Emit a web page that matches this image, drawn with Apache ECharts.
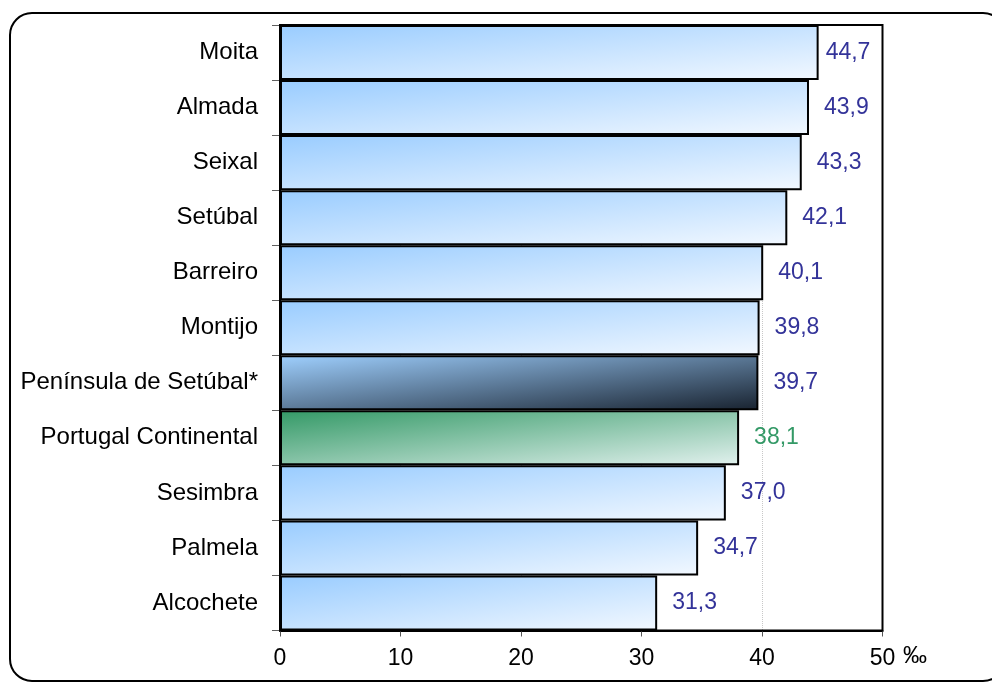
<!DOCTYPE html>
<html>
<head>
<meta charset="utf-8">
<script src="https://cdn.jsdelivr.net/npm/echarts@6/dist/echarts.min.js"></script>
<style>
html,body{margin:0;padding:0;background:#fff;}
#c{width:992px;height:684px;}
</style>
</head>
<body>
<div id="c"></div>
<script>
var categories = ['Moita','Almada','Seixal','Setúbal','Barreiro','Montijo','Península de Setúbal*','Portugal Continental','Sesimbra','Palmela','Alcochete'];
var values = [44.7, 43.9, 43.3, 42.1, 40.1, 39.8, 39.7, 38.1, 37.0, 34.7, 31.3];
var xTicks = [0, 10, 20, 30, 40, 50];
var unitLabel = '‰';

var FONT = 'Liberation Sans, Arial, sans-serif';
var GRID = {left: 280, right: 109.5, top: 25, bottom: 53.5};
var plotW = 992 - GRID.left - GRID.right;
var bandH = (684 - GRID.top - GRID.bottom) / categories.length;

function grad(v, c0, c1) {
  var w = v / 50 * plotW, h = bandH;
  var d = h * h + w * w;
  return {type: 'linear', x: 0, y: 0, x2: 2 * h * h / d, y2: 2 * w * w / d,
    colorStops: [{offset: 0, color: c0}, {offset: 1, color: c1}]};
}

var seriesData = values.map(function (v, i) {
  var c = categories[i];
  var fill, lbl = '#333399';
  if (c === 'Península de Setúbal*') fill = grad(v, '#9fd0ff', '#18222f');
  else if (c === 'Portugal Continental') { fill = grad(v, '#339966', '#e2f1ee'); lbl = '#339966'; }
  else fill = grad(v, '#99ccff', '#f2f8ff');
  // label pushed inward near the plot's right border (as in the original)
  var dist = v > 44 ? 7 : 15;
  return {value: v, itemStyle: {color: fill}, label: {color: lbl, distance: dist}};
});

var chart = echarts.init(document.getElementById('c'), null, {renderer: 'canvas'});
chart.setOption({
  animation: false,
  backgroundColor: '#fff',
  textStyle: {fontFamily: FONT},
  grid: {left: GRID.left, right: GRID.right, top: GRID.top, bottom: GRID.bottom, z: 1,
    show: true, borderColor: '#000', borderWidth: 2, backgroundColor: 'transparent'},
  xAxis: {
    type: 'value', min: 0, max: 50, interval: 10, z: 0,
    axisLine: {show: true, lineStyle: {color: '#000', width: 2}},
    axisTick: {show: true, length: 6, lineStyle: {color: '#555', width: 1}},
    axisLabel: {fontSize: 23, color: '#000', margin: 17, fontFamily: FONT,
      formatter: function (v) { return xTicks.indexOf(v) >= 0 ? String(v) : ''; }},
    splitLine: {show: true, lineStyle: {color: '#c8c8c8', type: 'dotted', width: 1}}
  },
  yAxis: {
    type: 'category', data: categories, inverse: true, z: 0,
    axisLine: {show: true, lineStyle: {color: '#808080', width: 1}},
    axisTick: {show: true, length: 8, lineStyle: {color: '#606060', width: 1}},
    axisLabel: {fontSize: 24, color: '#000', margin: 22, fontFamily: FONT},
    splitLine: {show: false}
  },
  series: [{
    type: 'bar', data: seriesData, barWidth: '100%', barCategoryGap: '0%', z: 2,
    itemStyle: {borderColor: '#000', borderWidth: 2},
    label: {show: true, position: 'right', fontSize: 23, fontFamily: FONT,
      formatter: function (p) { return p.value.toFixed(1).replace('.', ','); }}
  }],
  graphic: [
    {type: 'rect', shape: {x: 10, y: 13, width: 995, height: 668, r: 22}, silent: true, z: -10,
      style: {fill: 'none', stroke: '#000', lineWidth: 2}},
    {type: 'text', x: 915, y: 656, style: {text: unitLabel, fontSize: 24, fill: '#000',
      fontFamily: FONT, align: 'center', verticalAlign: 'middle'}}
  ]
});
</script>
</body>
</html>
